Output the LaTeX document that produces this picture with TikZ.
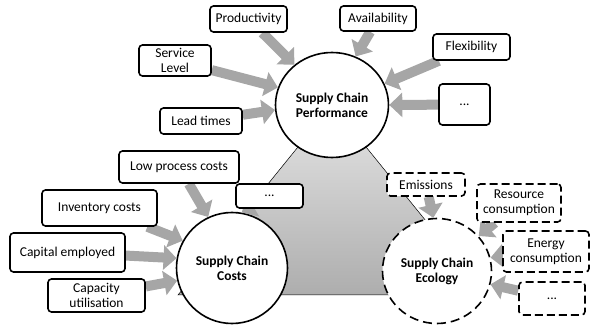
\documentclass[tikz,border=0pt]{standalone}
\usepackage{fontspec}
\setmainfont{Carlito}
\usetikzlibrary{arrows.meta,calc,shapes.geometric}
\definecolor{arrowgray}{HTML}{A6A6A6}
\pgfdeclarelayer{bg}
\pgfdeclarelayer{mid}
\pgfsetlayers{bg,mid,main}
\begin{document}
\begin{tikzpicture}[x=1pt,y=-1pt,
  box/.style={draw,line width=1.6pt,rounded corners=3.5pt,fill=white,align=center,
    inner sep=1pt,font=\fontsize{13.5}{15}\selectfont},
  dbox/.style={box,dash pattern=on 8pt off 4pt},
  hub/.style={draw,line width=1.6pt,ellipse,fill=white,align=center,inner sep=0pt,
    font=\fontsize{13.5}{15}\selectfont\bfseries},
  garrow/.style={draw=arrowgray,line width=10pt,-{Triangle[width=24pt,length=13pt]}}
]
\useasboundingbox (0,0) rectangle (590,326);

% boxes
\node[box, minimum width=77pt, minimum height=26pt] (prod) at (248.5,19) {Productivity};
\node[box, minimum width=76pt, minimum height=25pt] (avail) at (378,18.5) {Availability};
\node[box, minimum width=77pt, minimum height=26pt] (flex) at (471.5,47) {Flexibility};
\node[box, minimum width=51pt, minimum height=41pt] (pdots) at (464.5,104.5) {...};
\node[box, minimum width=72pt, minimum height=31pt] (serv) at (175,60.5) {Service\\Level};
\node[box, minimum width=82pt, minimum height=26pt] (lead) at (201,121) {Lead times};
\node[box, minimum width=120pt, minimum height=32pt] (low) at (179,167) {Low process costs};
\node[box, minimum width=67pt, minimum height=24pt] (cdots) at (269.5,196) {...};
\node[box, minimum width=115pt, minimum height=36pt] (inv) at (99.5,208) {Inventory costs};
\node[box, minimum width=115pt, minimum height=39pt] (cap) at (67.5,252.5) {Capital employed};
\node[box, minimum width=97pt, minimum height=33pt] (capu) at (96.5,295.5) {Capacity\\utilisation};
\node[dbox, minimum width=78pt, minimum height=23pt] (emis) at (426,184.5) {Emissions};
\node[dbox, minimum width=84pt, minimum height=38pt] (res) at (519,203) {Resource\\consumption};
\node[dbox, minimum width=86pt, minimum height=41pt] (ener) at (546,251.5) {Energy\\consumption};
\node[dbox, minimum width=66pt, minimum height=33pt] (edots) at (552,298.5) {...};

% hubs and arrows below the boxes
\begin{pgfonlayer}{mid}
\node[hub, minimum width=113pt, minimum height=105pt] (perf) at (332,105) {Supply Chain\\Performance};
\node[hub, minimum width=111pt, minimum height=111pt] (costs) at (232,268) {Supply Chain\\Costs};
\node[hub, minimum width=109pt, minimum height=105pt, dash pattern=on 9pt off 5pt] (eco) at (437,271) {Supply Chain\\Ecology};

\draw[garrow] (prod) -- (perf.133);
\draw[garrow] (avail) -- (perf.64);
\draw[garrow] (flex) -- (perf.22);
\draw[garrow] (pdots) -- (perf.0);
\draw[garrow] (serv) -- (perf.162);
\draw[garrow] (lead) -- (perf.185);
\draw[garrow] (low) -- (costs.115);
\draw[garrow] (cdots) -- (costs.80);
\draw[garrow] (inv) -- (costs.151);
\draw[garrow] (cap) -- (costs.170);
\draw[garrow] (capu) -- (costs.193);
\draw[garrow] (emis) -- (eco.94);
\draw[garrow] (res) -- (eco.40);
\draw[garrow] (ener) -- (eco.14);
\draw[garrow] (edots) -- (eco.-14);
\end{pgfonlayer}

% background triangle joining the hubs
\begin{pgfonlayer}{bg}
\draw[line width=0.5pt, top color=white!90!black, bottom color=white!68!black]
  (perf.center) -- (178,295) -- (486,295) -- cycle;
\end{pgfonlayer}
\end{tikzpicture}
\end{document}
